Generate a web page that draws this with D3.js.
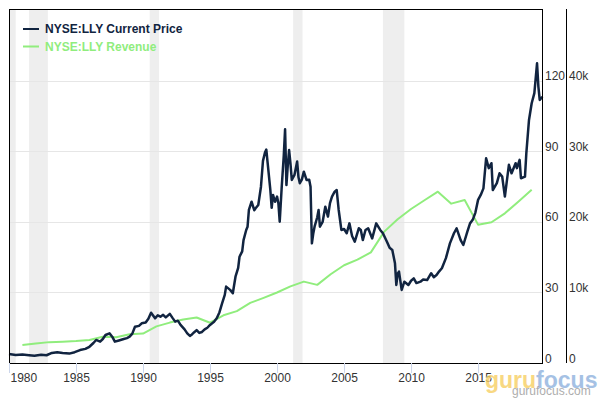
<!DOCTYPE html>
<html>
<head>
<meta charset="utf-8">
<script src="https://cdn.jsdelivr.net/npm/d3@7/dist/d3.min.js"></script>
<style>
  html, body { margin: 0; padding: 0; background: #fff; }
  svg { display: block; font-family: "Liberation Sans", Arial, sans-serif; }
</style>
</head>
<body>
<svg id="chart" width="600" height="400"></svg>
<script>
// ---- DATA ----
// Price series: time (decimal year) and price (USD)
const priceTime = [
  1980.0,1980.5,1981.0,1981.5,1981.9,1982.4,1982.8,1983.2,1983.6,1984.0,1984.5,1984.9,
  1985.3,1985.7,1986.0,1986.3,1986.5,1986.8,1987.0,1987.2,1987.5,1987.7,1987.9,1988.2,
  1988.5,1988.8,1989.0,1989.2,1989.4,1989.7,1989.9,1990.2,1990.4,1990.6,1990.9,1991.1,
  1991.3,1991.5,1991.7,1992.0,1992.2,1992.4,1992.6,1992.8,1993.1,1993.3,1993.5,1993.6,
  1993.8,1994.0,1994.2,1994.4,1994.6,1994.8,1995.0,1995.3,1995.5,1995.7,1995.9,1996.1,
  1996.2,1996.5,1996.7,1996.9,1997.1,1997.2,1997.4,1997.5,1997.7,1997.8,1997.9,1998.1,
  1998.3,1998.4,1998.6,1998.8,1998.95,1999.1,1999.2,1999.3,1999.5,1999.6,1999.7,1999.85,
  2000.0,2000.1,2000.2,2000.35,2000.5,2000.6,2000.7,2000.8,2000.9,2001.0,2001.1,2001.3,
  2001.5,2001.6,2001.7,2001.85,2002.0,2002.2,2002.4,2002.5,2002.6,2002.7,2002.8,2003.0,
  2003.1,2003.2,2003.4,2003.6,2003.8,2003.95,2004.1,2004.3,2004.45,2004.6,2004.8,2005.0,
  2005.2,2005.4,2005.6,2005.8,2006.1,2006.25,2006.4,2006.6,2006.8,2007.1,2007.4,2007.7,
  2007.9,2008.2,2008.4,2008.6,2008.8,2008.9,2009.0,2009.1,2009.3,2009.5,2009.8,2010.0,
  2010.2,2010.4,2010.7,2010.9,2011.2,2011.5,2011.7,2011.9,2012.1,2012.3,2012.6,2012.9,
  2013.2,2013.4,2013.7,2013.9,2014.2,2014.4,2014.6,2014.8,2015.0,2015.2,2015.4,2015.6,
  2015.8,2016.0,2016.1,2016.4,2016.6,2016.8,2017.0,2017.3,2017.5,2017.8,2017.9,2018.1,
  2018.2,2018.5,2018.6,2018.8,2019.0,2019.2,2019.4,2019.5,2019.6,2019.8
];
const priceValue = [
  3.8,3.4,3.6,3.3,3.1,3.5,3.3,4.3,4.6,4.3,4.0,4.6,
  5.5,6.0,6.9,8.5,9.8,9.1,10.2,11.9,12.6,11.2,9.1,9.6,
  10.1,10.6,11.2,12.5,15.4,15.8,16.9,17.2,18.8,21.4,19.0,20.3,
  19.7,20.5,19.4,20.9,19.2,17.6,18.0,16.2,14.3,12.6,11.5,11.9,
  13.0,14.0,12.8,13.2,14.3,15.0,16.2,17.5,19.0,21.5,25.4,29.0,
  32.5,31.1,29.7,36.7,40.5,45.2,47.5,52.3,56.6,58.0,65.1,68.6,
  65.0,65.8,67.2,75.0,86.0,89.5,90.8,85.0,73.6,66.0,71.5,68.6,
  70.8,68.0,60.1,75.0,88.0,99.4,75.7,84.0,90.6,85.0,77.9,80.0,
  85.7,79.0,76.5,78.0,81.4,77.9,78.0,75.0,50.9,55.0,58.0,62.0,
  65.1,58.0,60.0,66.5,62.3,68.0,70.8,72.9,73.6,65.1,56.6,57.0,
  55.2,59.4,54.0,51.6,57.3,56.6,52.3,56.6,57.3,53.0,59.4,56.6,
  55.2,51.6,49.0,48.1,42.4,33.2,38.0,38.9,31.1,34.6,33.2,35.0,
  36.0,34.0,34.6,35.5,35.3,38.2,36.5,37.4,39.0,40.3,44.6,50.9,
  55.2,57.3,52.3,50.2,55.9,59.4,60.9,64.0,69.4,71.5,74.3,87.1,
  82.9,85.0,73.6,76.5,80.7,79.3,70.8,84.3,80.7,85.0,82.9,86.4,
  78.6,79.3,89.2,103.4,110.5,114.8,127.5,117.6,111.9,113.3
];
// Revenue (USD millions) by fiscal year, plotted at fiscal year end
const revenueYears = [
  1980,1981,1982,1983,1984,1985,1986,1987,1988,1989,1990,1991,1992,1993,1994,1995,1996,
  1997,1998,1999,2000,2001,2002,2003,2004,2005,2006,2007,2008,2009,2010,2011,2012,2013,
  2014,2015,2016,2017,2018
];
const revenueValue = [
  2560,2770,2960,3030,3110,3270,3720,3640,4070,4180,5190,5730,6170,6450,5710,6760,7350,
  8520,9240,10000,10860,11540,11080,12580,13860,14650,15690,18630,20380,21840,23080,24290,22600,23110,
  19620,19960,21220,22870,24560
];
// Recession periods (decimal years)
const recessionStart = [1980.0, 1981.5, 1990.5, 2001.2, 2007.9];
const recessionEnd   = [1980.5, 1982.9, 1991.2, 2001.9, 2009.5];
// Tick labels
const yearTicks = [1980,1985,1990,1995,2000,2005,2010,2015];
const priceTicks = [0,30,60,90,120];
const revenueTicks = [0,10000,20000,30000,40000];
const seriesNames = ["NYSE:LLY Current Price", "NYSE:LLY Revenue"];
const seriesColors = ["#112440", "#90ed7d"];

// ---- LAYOUT ----
const L = 9, R = 542, T = 9, B = 363;
const svg = d3.select("#chart");

const x = d3.scaleLinear().domain([1980, 2019.77]).range([L, R]);
const yP = d3.scaleLinear().domain([0, 150.6]).range([B, T]);
const yR = d3.scaleLinear().domain([0, 50200]).range([B, T]);

// recession bands
svg.append("g").selectAll("rect")
  .data(recessionStart.map((s, i) => [s, recessionEnd[i]]))
  .join("rect")
  .attr("x", d => x(d[0])).attr("width", d => x(d[1]) - x(d[0]))
  .attr("y", T).attr("height", B - T)
  .attr("fill", "#eeeeee");

// grid
svg.append("g").selectAll("line")
  .data(priceTicks.filter(d => d > 0))
  .join("line")
  .attr("x1", L).attr("x2", R)
  .attr("y1", d => Math.round(yP(d)) + 0.5).attr("y2", d => Math.round(yP(d)) + 0.5)
  .attr("stroke", "#e6e6e6").attr("stroke-width", 1);

// revenue line
const revLine = d3.line().x((d, i) => x(revenueYears[i] + 1)).y(d => yR(d));
svg.append("path").datum(revenueValue)
  .attr("d", revLine).attr("fill", "none")
  .attr("stroke", seriesColors[1]).attr("stroke-width", 2)
  .attr("stroke-linejoin", "round");

// price line
const priceLine = d3.line().x((d, i) => x(priceTime[i])).y(d => yP(d));
svg.append("path").datum(priceValue)
  .attr("d", priceLine).attr("fill", "none")
  .attr("stroke", seriesColors[0]).attr("stroke-width", 2.5)
  .attr("stroke-linejoin", "round");

// frame
svg.append("rect").attr("x", L + 0.5).attr("y", T + 0.5)
  .attr("width", R - L).attr("height", B - T)
  .attr("fill", "none").attr("stroke", "#000").attr("stroke-width", 1);

// x axis
const xAxis = svg.append("g").attr("transform", `translate(0,${B})`)
  .call(d3.axisBottom(x).tickValues(yearTicks).tickFormat(d3.format("d")).tickSize(10).tickPadding(6));
xAxis.select(".domain").remove();
xAxis.selectAll(".tick line").attr("stroke", "#ccd6eb");
xAxis.selectAll(".tick text")
  .attr("font-size", 12).attr("font-family", "Liberation Sans, Arial, sans-serif")
  .attr("fill", "#333").attr("y", 19).attr("dy", 0)
  .attr("text-anchor", (d, i) => i === 0 ? "start" : "middle")
  .attr("x", (d, i) => i === 0 ? 1 : 0);

// right axes
const pAxis = svg.append("g").attr("transform", `translate(${R},0)`)
  .call(d3.axisRight(yP).tickValues(priceTicks).tickSize(0).tickPadding(3));
pAxis.select(".domain").remove();
pAxis.selectAll(".tick text")
  .attr("font-size", 12).attr("font-family", "Liberation Sans, Arial, sans-serif")
  .attr("fill", "#333").attr("dy", -1);

svg.append("line").attr("x1", 566.5).attr("x2", 566.5).attr("y1", T).attr("y2", B)
  .attr("stroke", "#000").attr("stroke-width", 1);
const rAxis = svg.append("g").attr("transform", `translate(566,0)`)
  .call(d3.axisRight(yR).tickValues(revenueTicks).tickSize(0).tickPadding(3)
    .tickFormat(d => d === 0 ? "0" : (d / 1000) + "k"));
rAxis.select(".domain").remove();
rAxis.selectAll(".tick text")
  .attr("font-size", 12).attr("font-family", "Liberation Sans, Arial, sans-serif")
  .attr("fill", "#333").attr("dy", -1);

// legend
const lg = svg.append("g");
seriesNames.forEach((name, i) => {
  const yy = 29 + i * 17.5;
  lg.append("line").attr("x1", 23).attr("x2", 39).attr("y1", yy).attr("y2", yy)
    .attr("stroke", seriesColors[i]).attr("stroke-width", 2);
  lg.append("text").attr("x", 45).attr("y", yy + 4.3)
    .attr("font-size", 12).attr("font-weight", "bold")
    .attr("fill", seriesColors[i]).text(name);
});

// watermark
const wm = svg.append("g").attr("opacity", 0.8);
const wt = wm.append("text").attr("x", 485).attr("y", 388)
  .attr("font-size", 23).attr("font-weight", "bold")
  .attr("font-family", "Liberation Sans, Arial, sans-serif")
  .attr("stroke", "#fff").attr("stroke-width", 1).attr("paint-order", "stroke");
wt.append("tspan").attr("fill", "#f7cf63").text("guru");
wt.append("tspan").attr("fill", "#8fb2de").text("focus");
wm.append("text").attr("x", 512).attr("y", 395)
  .attr("font-size", 12).attr("fill", "#999")
  .text("gurufocus.com");
</script>
</body>
</html>
